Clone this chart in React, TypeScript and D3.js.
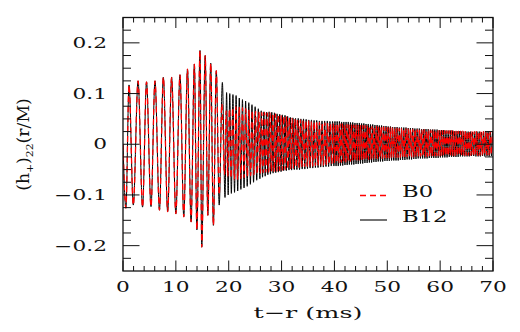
import React from 'react';
import * as d3 from 'd3';

const width = 520;
const height = 332;
const plot = { left: 123, right: 493, top: 17.5, bottom: 271 };

// axis ticks
const xTicks = [0, 10, 20, 30, 40, 50, 60, 70];
const yTicks = [-0.2, -0.1, 0, 0.1, 0.2];
const yTickLabels = ['\u22120.2', '\u22120.1', '0', '0.1', '0.2'];

// inspiral + merger, same for both runs (time in ms, h+ strain)
const inspiralT = [0, 0.55, 1.14, 1.95, 2.85, 3.7, 4.45, 5.3, 6.05, 6.9, 7.63, 8.45, 9.2, 10.0, 10.78, 11.5, 12.2, 12.88, 13.5, 13.98, 14.57, 14.9, 15.55, 16.05, 16.6, 17.1, 17.65];
const inspiralH = [0, -0.126, 0.117, -0.12, 0.125, -0.124, 0.123, -0.123, 0.125, -0.13, 0.132, -0.133, 0.132, -0.137, 0.137, -0.143, 0.148, -0.153, 0.158, -0.169, 0.185, -0.203, 0.175, -0.14, 0.16, -0.16, 0.145];

// B12 post-merger (extrema sampled at a fixed step from t0)
const b12MergerT = [18.2, 18.8];
const b12MergerH = [-0.12, 0.122];
const b12Seg1 = { t0: 19.3, dt: 0.3 };
const b12Seg1H = [-0.105, 0.102, -0.1, 0.1, -0.097, 0.098, -0.095, 0.096, -0.092, 0.091, -0.089, 0.088,
  -0.086, 0.085, -0.083, 0.082, -0.079, 0.078, -0.075, 0.074, -0.071, 0.07, -0.068];
const b12Seg2 = { t0: 26.15, dt: 0.25 };
const b12Seg2H = [0.066, -0.065, 0.064, -0.063, 0.063, -0.06, 0.064, -0.059, 0.063, -0.057, 0.062, -0.056, 0.06, -0.055,
  0.059, -0.054, 0.058, -0.052, 0.057, -0.052, 0.055, -0.051, 0.053, -0.051, 0.052, -0.05, 0.051, -0.05,
  0.051, -0.05, 0.05, -0.049, 0.05, -0.049, 0.049, -0.048, 0.048, -0.047, 0.048, -0.047, 0.047, -0.046,
  0.047, -0.046, 0.046, -0.045, 0.046, -0.045, 0.046, -0.044, 0.046, -0.044, 0.045, -0.043, 0.045, -0.043];
const b12Seg3 = { t0: 40.1, dt: 0.21 };
const b12Seg3H = [
  0.045, -0.043, 0.045, -0.043, 0.045, -0.042, 0.044, -0.042, 0.044, -0.041, 0.044, -0.041, 0.044, -0.04, 0.043, -0.04,
  0.043, -0.04, 0.042, -0.039, 0.042, -0.039, 0.042, -0.038, 0.041, -0.038, 0.041, -0.037, 0.04, -0.037, 0.04, -0.036,
  0.039, -0.036, 0.039, -0.035, 0.038, -0.035, 0.038, -0.034, 0.037, -0.034, 0.037, -0.034, 0.036, -0.033, 0.036, -0.033,
  0.035, -0.033, 0.035, -0.032, 0.034, -0.032, 0.034, -0.032, 0.034, -0.032, 0.033, -0.031, 0.033, -0.031, 0.033, -0.031,
  0.033, -0.03, 0.032, -0.03, 0.032, -0.03, 0.032, -0.029, 0.031, -0.029, 0.031, -0.028, 0.031, -0.028, 0.03, -0.028,
  0.03, -0.028, 0.03, -0.028, 0.03, -0.027, 0.029, -0.027, 0.029, -0.027, 0.029, -0.027, 0.029, -0.027, 0.028, -0.026,
  0.028, -0.026, 0.028, -0.026, 0.027, -0.026, 0.027, -0.025, 0.027, -0.025, 0.027, -0.025, 0.026, -0.025, 0.026, -0.025,
  0.026, -0.024, 0.025, -0.024, 0.025, -0.024, 0.025, -0.024, 0.025, -0.024, 0.025, -0.023, 0.024, -0.023, 0.025, -0.024,
  0.025, -0.024, 0.025, -0.024, 0.024, -0.023, 0.025, -0.024, 0.024, -0.023, 0.025, -0.024, 0.024, -0.023, 0.025, -0.024];

// B0 post-merger
const b0MergerT = [18.2, 18.7];
const b0MergerH = [-0.1, 0.08];
const b0Seg1 = { t0: 19.2, dt: 0.31 };
const b0Seg1H = [-0.06, 0.066, -0.064, 0.07, -0.067, 0.072, -0.07, 0.074, -0.07, 0.074, -0.068, 0.072,
  -0.066, 0.07, -0.064, 0.068, -0.062, 0.066, -0.06, 0.065, -0.059, 0.064];
const b0Seg2 = { t0: 26.0, dt: 0.26 };
const b0Seg2H = [-0.057, 0.063, -0.056, 0.063, -0.055, 0.062, -0.055, 0.062, -0.054, 0.061, -0.054, 0.06, -0.053, 0.059,
  -0.052, 0.057, -0.051, 0.056, -0.05, 0.054, -0.049, 0.053, -0.048, 0.051, -0.047, 0.05, -0.046, 0.049,
  -0.046, 0.048, -0.045, 0.047, -0.044, 0.047, -0.044, 0.046, -0.043, 0.045, -0.043, 0.044, -0.042, 0.044,
  -0.042, 0.043, -0.041, 0.043, -0.041, 0.042, -0.04, 0.042, -0.04, 0.041, -0.039, 0.041];
const b0Seg3 = { t0: 40.0, dt: 0.215 };
const b0Seg3H = [
  -0.037, 0.04, -0.037, 0.04, -0.036, 0.04, -0.036, 0.04, -0.035, 0.039, -0.035, 0.039, -0.034, 0.039, -0.034, 0.039,
  -0.033, 0.038, -0.033, 0.038, -0.032, 0.037, -0.032, 0.037, -0.031, 0.037, -0.031, 0.037, -0.03, 0.036, -0.03, 0.036,
  -0.029, 0.035, -0.029, 0.035, -0.028, 0.035, -0.028, 0.035, -0.028, 0.034, -0.028, 0.034, -0.027, 0.033, -0.027, 0.033,
  -0.027, 0.033, -0.027, 0.033, -0.026, 0.032, -0.026, 0.032, -0.026, 0.031, -0.026, 0.031, -0.025, 0.031, -0.025, 0.031,
  -0.025, 0.03, -0.025, 0.03, -0.025, 0.03, -0.025, 0.03, -0.024, 0.029, -0.024, 0.029, -0.024, 0.029, -0.024, 0.029,
  -0.024, 0.028, -0.024, 0.028, -0.024, 0.028, -0.024, 0.028, -0.023, 0.028, -0.023, 0.028, -0.023, 0.027, -0.023, 0.027,
  -0.023, 0.027, -0.023, 0.027, -0.023, 0.027, -0.023, 0.027, -0.023, 0.026, -0.023, 0.026, -0.022, 0.026, -0.022, 0.026,
  -0.022, 0.026, -0.022, 0.026, -0.022, 0.026, -0.022, 0.026, -0.022, 0.025, -0.022, 0.025, -0.022, 0.025, -0.022, 0.025,
  -0.022, 0.025, -0.022, 0.025, -0.021, 0.025, -0.021, 0.025, -0.021, 0.025, -0.021, 0.025];

const pairs = (ts: number[], hs: number[]) => ts.map((t, i) => [t, hs[i]] as [number, number]);
const sampled = (seg: { t0: number; dt: number }, hs: number[]) =>
  hs.map((h, i) => [seg.t0 + i * seg.dt, h] as [number, number]);

const b12 = [
  ...pairs(inspiralT, inspiralH),
  ...pairs(b12MergerT, b12MergerH),
  ...sampled(b12Seg1, b12Seg1H),
  ...sampled(b12Seg2, b12Seg2H),
  ...sampled(b12Seg3, b12Seg3H),
];
const b0 = [
  ...pairs(inspiralT, inspiralH),
  ...pairs(b0MergerT, b0MergerH),
  ...sampled(b0Seg1, b0Seg1H),
  ...sampled(b0Seg2, b0Seg2H),
  ...sampled(b0Seg3, b0Seg3H),
];

const font = 'DejaVu Serif';
const red = '#ff0000';

const Txt = ({ x, y, sx = 1.55, size = 14, anchor = 'middle', children }: any) => (
  <text
    transform={`translate(${x},${y}) scale(${sx},1)`}
    textAnchor={anchor}
    fontSize={size}
    fontFamily={font}
    fill="#111"
  >
    {children}
  </text>
);

const App = () => {
  const x = d3.scaleLinear().domain([0, 70]).range([plot.left, plot.right]);
  const y = d3.scaleLinear().domain([-0.25, 0.25]).range([plot.bottom, plot.top]);

  const line = d3
    .line<[number, number]>()
    .x((d) => x(d[0]))
    .y((d) => y(d[1]))
    .curve(d3.curveMonotoneX);

  const xMinor = d3.range(0, 70.001, 2).filter((v) => !xTicks.includes(Math.round(v)));
  const yMinor = d3.range(-0.225, 0.2251, 0.025).filter((v) => Math.abs(Math.round(v * 40) % 4) !== 0);

  return (
    <svg width={width} height={height} style={{ position: 'absolute', left: 0, top: 0 }}>
      <rect width={width} height={height} fill="white" />
      <defs>
        <clipPath id="plotArea">
          <rect x={plot.left} y={plot.top} width={plot.right - plot.left} height={plot.bottom - plot.top} />
        </clipPath>
      </defs>

      <g clipPath="url(#plotArea)">
        <path d={line(b12) || ''} fill="none" stroke="#000" strokeWidth={1} />
        <path d={line(b0) || ''} fill="none" stroke={red} strokeWidth={1.3} strokeDasharray="6,4" />
      </g>

      {/* frame */}
      <rect
        x={plot.left}
        y={plot.top}
        width={plot.right - plot.left}
        height={plot.bottom - plot.top}
        fill="none"
        stroke="#111"
        strokeWidth={1.3}
      />

      {/* ticks on all four sides */}
      <g stroke="#111" strokeWidth={1}>
        {xTicks.map((t) => (
          <g key={'xM' + t}>
            <line x1={x(t)} x2={x(t)} y1={plot.bottom} y2={plot.bottom - 10.5} />
            <line x1={x(t)} x2={x(t)} y1={plot.top} y2={plot.top + 10.5} />
          </g>
        ))}
        {xMinor.map((t) => (
          <g key={'xm' + t}>
            <line x1={x(t)} x2={x(t)} y1={plot.bottom} y2={plot.bottom - 5} />
            <line x1={x(t)} x2={x(t)} y1={plot.top} y2={plot.top + 5} />
          </g>
        ))}
        {yTicks.map((t) => (
          <g key={'yM' + t}>
            <line x1={plot.left} x2={plot.left + 16.5} y1={y(t)} y2={y(t)} />
            <line x1={plot.right} x2={plot.right - 16.5} y1={y(t)} y2={y(t)} />
          </g>
        ))}
        {yMinor.map((t) => (
          <g key={'ym' + t}>
            <line x1={plot.left} x2={plot.left + 8} y1={y(t)} y2={y(t)} />
            <line x1={plot.right} x2={plot.right - 8} y1={y(t)} y2={y(t)} />
          </g>
        ))}
      </g>

      {/* tick labels */}
      {xTicks.map((t) => (
        <Txt key={'xl' + t} x={x(t)} y={292}>
          {String(t)}
        </Txt>
      ))}
      {yTicks.map((t, i) => (
        <Txt key={'yl' + t} x={107} y={y(t) + 5} anchor="end">
          {yTickLabels[i]}
        </Txt>
      ))}

      {/* axis titles */}
      <Txt x={308} y={318} size={15} sx={1.7}>
        {'t\u2212r (ms)'}
      </Txt>
      <text
        transform={`translate(29,144.5) rotate(-90) scale(1.08,1)`}
        textAnchor="middle"
        fontSize={16}
        fontFamily={font}
        fill="#111"
      >
        (h<tspan dy={4} fontSize={10}>+</tspan>
        <tspan dy={-4}>)</tspan>
        <tspan dy={4} fontSize={10}>22</tspan>
        <tspan dy={-4}>(r/M)</tspan>
      </text>

      {/* legend */}
      <line x1={360} x2={387} y1={195.5} y2={195.5} stroke={red} strokeWidth={1.4} strokeDasharray="6,4" />
      <Txt x={402} y={197} size={16} sx={1.42} anchor="start">B0</Txt>
      <line x1={360} x2={387} y1={220} y2={220} stroke="#000" strokeWidth={1.1} />
      <Txt x={402} y={221.5} size={16} sx={1.42} anchor="start">B12</Txt>
    </svg>
  );
};

export default App;
